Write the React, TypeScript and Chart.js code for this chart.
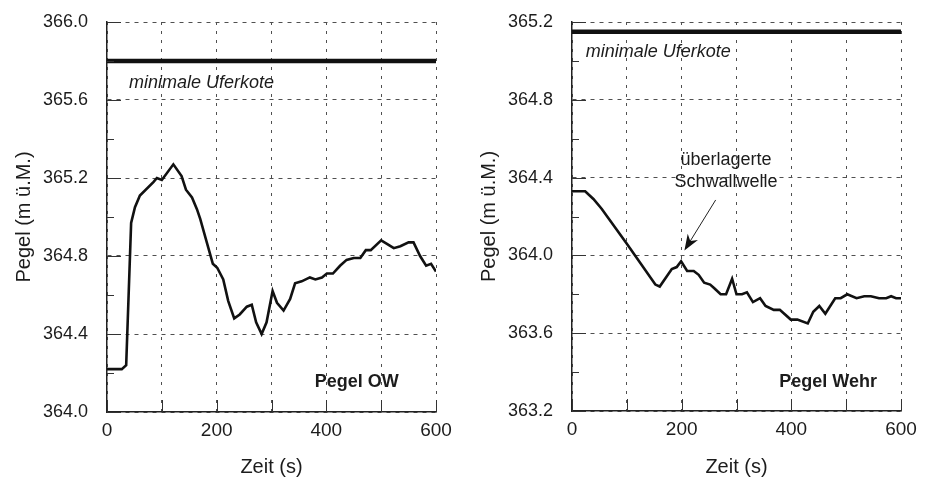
import React, { useEffect, useRef } from 'react';
import { Chart, registerables } from 'chart.js';

Chart.register(...registerables);

// ---------- data ----------
const timeOW = [0, 27, 35, 44, 51, 60, 85, 91, 100, 121, 136, 144, 155, 164, 170, 182, 193, 201, 212, 221, 232, 242, 255, 264, 272, 282, 291, 302, 310, 322, 334, 343, 355, 370, 380, 392, 401, 412, 425, 437, 450, 462, 472, 481, 500, 512, 523, 535, 550, 559, 571, 582, 591, 600];
const pegelOW = [364.22, 364.22, 364.24, 364.97, 365.05, 365.11, 365.18, 365.2, 365.19, 365.27, 365.21, 365.14, 365.1, 365.04, 364.99, 364.87, 364.76, 364.74, 364.68, 364.57, 364.48, 364.5, 364.54, 364.55, 364.46, 364.4, 364.46, 364.62, 364.56, 364.52, 364.58, 364.66, 364.67, 364.69, 364.68, 364.69, 364.71, 364.71, 364.75, 364.78, 364.79, 364.79, 364.83, 364.83, 364.88, 364.86, 364.84, 364.85, 364.87, 364.87, 364.8, 364.75, 364.76, 364.72];

const timeWehr = [0, 24, 39, 54, 100, 152, 160, 182, 191, 199, 210, 222, 231, 241, 252, 260, 271, 281, 292, 300, 310, 319, 330, 343, 353, 368, 379, 399, 411, 430, 440, 451, 462, 480, 490, 502, 519, 533, 545, 560, 573, 582, 591, 600];
const pegelWehr = [364.33, 364.33, 364.29, 364.24, 364.06, 363.85, 363.84, 363.93, 363.94, 363.97, 363.92, 363.92, 363.9, 363.86, 363.85, 363.83, 363.8, 363.8, 363.88, 363.8, 363.8, 363.81, 363.76, 363.78, 363.74, 363.72, 363.72, 363.67, 363.67, 363.65, 363.71, 363.74, 363.7, 363.78, 363.78, 363.8, 363.78, 363.79, 363.79, 363.78, 363.78, 363.79, 363.78, 363.78];

const uferkoteOW = 365.8;
const uferkoteWehr = 365.15;

const xRange = [0, 600];
const xLabels = ['0', '200', '400', '600'];
const yLabelsOW = ['364.0', '364.4', '364.8', '365.2', '365.6', '366.0'];
const yLabelsWehr = ['363.2', '363.6', '364.0', '364.4', '364.8', '365.2'];

const xTitle = 'Zeit (s)';
const yTitle = 'Pegel (m ü.M.)';
const uferText = 'minimale Uferkote';

// ---------- styles ----------
const FAMILY = "'Liberation Sans', Arial, Helvetica, sans-serif";
const TEXT = '#1c1c1c';
const GRID = '#505050';

type Note = { text: string; x: number; y: number; font: string; align: CanvasTextAlign };
type Arrow = { from: [number, number]; to: [number, number] } | null;

const overlayPlugin = {
  id: 'overlay',
  afterDatasetsDraw(chart: any, _args: any, opts: any) {
    const { ctx } = chart;
    const xs = chart.scales.x;
    const ys = chart.scales.y;
    ctx.save();
    ctx.strokeStyle = '#333';
    ctx.lineWidth = 1;
    ys.ticks.forEach((t: any) => {
      const py = Math.round(ys.getPixelForValue(t.value)) + 0.5;
      const len = t.label ? 14 : 7;
      ctx.beginPath();
      ctx.moveTo(xs.left, py);
      ctx.lineTo(xs.left + len, py);
      ctx.stroke();
    });
    xs.ticks.forEach((t: any) => {
      const px = Math.round(xs.getPixelForValue(t.value)) + 0.5;
      ctx.beginPath();
      ctx.moveTo(px, ys.bottom);
      ctx.lineTo(px, ys.bottom - 12);
      ctx.stroke();
    });
    ctx.fillStyle = TEXT;
    ctx.textBaseline = 'middle';
    (opts.notes || []).forEach((n: Note) => {
      ctx.font = n.font;
      ctx.textAlign = n.align;
      ctx.fillText(n.text, xs.getPixelForValue(n.x), ys.getPixelForValue(n.y));
    });
    const arrow: Arrow = opts.arrow;
    if (arrow) {
      const x1 = xs.getPixelForValue(arrow.from[0]);
      const y1 = ys.getPixelForValue(arrow.from[1]);
      const x2 = xs.getPixelForValue(arrow.to[0]);
      const y2 = ys.getPixelForValue(arrow.to[1]);
      const ang = Math.atan2(y2 - y1, x2 - x1);
      const L = 16;
      const W = 6;
      ctx.strokeStyle = '#222';
      ctx.lineWidth = 1;
      ctx.beginPath();
      ctx.moveTo(x1, y1);
      ctx.lineTo(x2 - Math.cos(ang) * L * 0.7, y2 - Math.sin(ang) * L * 0.7);
      ctx.stroke();
      const bx = x2 - Math.cos(ang) * L;
      const by = y2 - Math.sin(ang) * L;
      const mx = x2 - Math.cos(ang) * L * 0.7;
      const my = y2 - Math.sin(ang) * L * 0.7;
      ctx.fillStyle = '#111';
      ctx.beginPath();
      ctx.moveTo(x2, y2);
      ctx.lineTo(bx - Math.sin(ang) * W, by + Math.cos(ang) * W);
      ctx.lineTo(mx, my);
      ctx.lineTo(bx + Math.sin(ang) * W, by - Math.cos(ang) * W);
      ctx.closePath();
      ctx.fill();
    }
    ctx.restore();
  },
};

type PanelProps = {
  left: number;
  time: number[];
  level: number[];
  ufer: number;
  yMin: number;
  yMax: number;
  yLabels: string[];
  notes: Note[];
  arrow: Arrow;
  bottomH: number;
};

function Panel({ left, time, level, ufer, yMin, yMax, yLabels, notes, arrow, bottomH }: PanelProps) {
  const ref = useRef<HTMLCanvasElement | null>(null);
  useEffect(() => {
    if (!ref.current) return;
    const fmt = (v: number) => Number(v).toFixed(1);
    const chart = new Chart(ref.current, {
      type: 'line',
      data: {
        datasets: [
          {
            data: time.map((t, i) => ({ x: t, y: level[i] })),
            borderColor: '#111',
            borderWidth: 2.6,
            pointRadius: 0,
            tension: 0,
            fill: false,
          },
          {
            data: xRange.map((t) => ({ x: t, y: ufer })),
            borderColor: '#111',
            borderWidth: 4.5,
            pointRadius: 0,
            fill: false,
          },
        ],
      },
      plugins: [overlayPlugin],
      options: {
        animation: false,
        responsive: false,
        maintainAspectRatio: false,
        layout: { padding: { left: 0, top: 22, right: 29, bottom: 0 } },
        plugins: {
          legend: { display: false },
          tooltip: { enabled: false },
          overlay: { notes, arrow },
        } as any,
        scales: {
          x: {
            type: 'linear',
            min: xRange[0],
            max: xRange[1],
            afterFit: (s: any) => {
              s.height = bottomH;
              s.paddingLeft = 0;
              s.paddingRight = 0;
            },
            ticks: {
              stepSize: 100,
              autoSkip: false,
              maxRotation: 0,
              padding: 7,
              color: TEXT,
              font: { family: FAMILY, size: 19 },
              callback: (v: any) => (xLabels.includes(String(v)) ? String(v) : ''),
            },
            grid: { color: GRID, lineWidth: 1, drawTicks: false },
            border: { display: true, color: '#222', width: 1.5, dash: [3, 6] },
            title: {
              display: true,
              text: xTitle,
              color: TEXT,
              font: { family: FAMILY, size: 20, lineHeight: 1 },
              padding: { top: 0, bottom: 0 },
            },
          },
          y: {
            type: 'linear',
            min: yMin,
            max: yMax,
            afterFit: (s: any) => {
              s.width = 107;
              s.paddingTop = 0;
              s.paddingBottom = 0;
            },
            ticks: {
              stepSize: 0.2,
              autoSkip: false,
              maxTicksLimit: 30,
              padding: 19,
              color: TEXT,
              font: { family: FAMILY, size: 18 },
              callback: (v: any) => (yLabels.includes(fmt(v)) ? fmt(v) : ''),
            },
            grid: {
              color: (c: any) => (c.tick && yLabels.includes(fmt(c.tick.value)) ? GRID : 'rgba(0,0,0,0)'),
              lineWidth: 1,
              drawTicks: false,
            },
            border: { display: true, color: '#222', width: 1.5, dash: [4, 5] },
            title: {
              display: true,
              text: yTitle,
              color: TEXT,
              font: { family: FAMILY, size: 20, lineHeight: 1 },
              padding: { top: 14, bottom: 0 },
            },
          },
        },
      } as any,
    });
    return () => chart.destroy();
  }, []);
  return (
    <canvas
      ref={ref}
      width={465}
      height={477}
      style={{ position: 'absolute', left, top: 0, width: 465, height: 477 }}
    />
  );
}

const notesOW: Note[] = [
  { text: uferText, x: 40, y: 365.687, font: `italic 18px ${FAMILY}`, align: 'left' },
  { text: 'Pegel OW', x: 379, y: 364.155, font: `bold 18px ${FAMILY}`, align: 'left' },
];

const notesWehr: Note[] = [
  { text: uferText, x: 25, y: 365.044, font: `italic 18px ${FAMILY}`, align: 'left' },
  { text: 'Pegel Wehr', x: 378, y: 363.351, font: `bold 18px ${FAMILY}`, align: 'left' },
  { text: 'überlagerte', x: 281, y: 364.49, font: `18px ${FAMILY}`, align: 'center' },
  { text: 'Schwallwelle', x: 281, y: 364.377, font: `18px ${FAMILY}`, align: 'center' },
];

const arrowWehr: Arrow = { from: [262, 364.285], to: [205, 364.025] };

export default function App() {
  return (
    <div style={{ position: 'absolute', left: 0, top: 0, width: 930, height: 477, background: '#fff' }}>
      <Panel
        left={0}
        time={timeOW}
        level={pegelOW}
        ufer={uferkoteOW}
        yMin={364}
        yMax={366}
        yLabels={yLabelsOW}
        notes={notesOW}
        arrow={null}
        bottomH={65}
      />
      <Panel
        left={465}
        time={timeWehr}
        level={pegelWehr}
        ufer={uferkoteWehr}
        yMin={363.2}
        yMax={365.2}
        yLabels={yLabelsWehr}
        notes={notesWehr}
        arrow={arrowWehr}
        bottomH={66}
      />
    </div>
  );
}
